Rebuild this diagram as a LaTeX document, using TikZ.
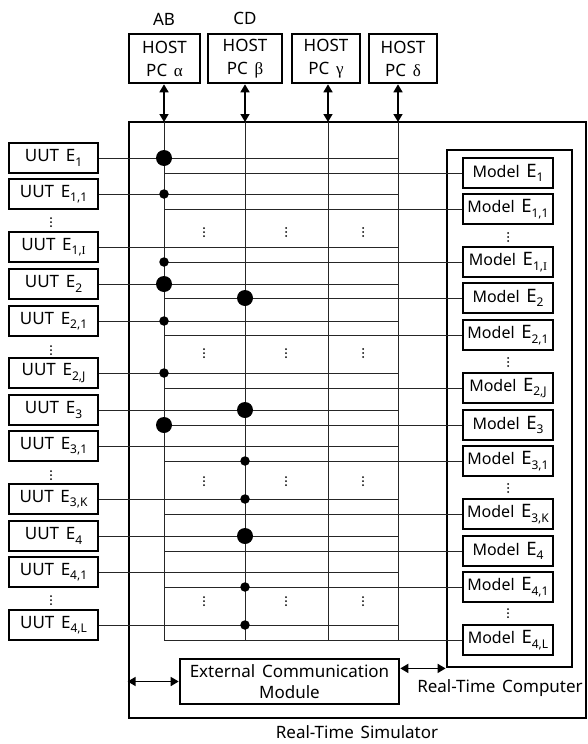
\documentclass[tikz,border=0pt]{standalone}
\usepackage{fontspec}
\setmainfont{Noto Sans}[WordSpace=1.5]
\newfontfamily\grkfont{Liberation Serif}
\usetikzlibrary{arrows.meta}
% lowered index used in the unit and model labels
\newcommand\idx[1]{\raisebox{-4.5pt}{\fontsize{12}{12}\selectfont #1}}
% model label: word a little smaller than the entity letter
\newcommand\mdl[1]{{\fontsize{16}{19}\selectfont Model}\ {\fontsize{18.5}{20}\selectfont E}\idx{#1}}
\begin{document}
\begin{tikzpicture}[x=1pt,y=-1pt,
  every node/.style={font=\fontsize{17}{20}\selectfont},
  box/.style={draw=black,line width=2.6pt,inner sep=0pt,fill=white},
  uutbox/.style={box,minimum width=89pt,minimum height=30pt},
  modelbox/.style={box,minimum width=90pt,minimum height=30pt},
  hostbox/.style={box,minimum height=49pt,align=center,font=\fontsize{17}{23}\selectfont},
  wire/.style={line width=1pt,draw=black!85},
  dblarrow/.style={line width=1.6pt,{Triangle[length=8pt,width=9pt]}-{Triangle[length=8pt,width=9pt]}},
  bigdot/.style={circle,fill=black,inner sep=0pt,minimum size=16pt},
  smalldot/.style={circle,fill=black,inner sep=0pt,minimum size=9.5pt}
]
\useasboundingbox[fill=white] (0,0) rectangle (587,744);

% simulator frame and the real-time computer inside it
\node[draw=black,line width=2.8pt,minimum width=457pt,minimum height=596pt,inner sep=0pt] (sim) at (357.5,420) {};
\node[draw=black,line width=2.8pt,minimum width=125pt,minimum height=517pt,inner sep=0pt] (comp) at (509.5,408.5) {};

% host PCs
\node at (164,19) (labAB) {AB};
\node at (245,18) (labCD) {CD};
\node[hostbox,minimum width=71pt] (ha) at (164.5,58.5) {HOST\\PC {\grkfont α}};
\node[hostbox,minimum width=74pt] (hb) at (245,58.5) {HOST\\PC {\grkfont β}};
\node[hostbox,minimum width=68pt] (hc) at (326,58.5) {HOST\\PC {\grkfont γ}};
\node[hostbox,minimum width=68pt] (hd) at (403,58.5) {HOST\\PC {\grkfont δ}};

% bus columns on the simulator top edge
\coordinate (v1) at (164,122);
\coordinate (v2) at (245,122);
\coordinate (v3) at (328,122);
\coordinate (v4) at (398,122);

% units under test
\foreach \i/\y/\s in {1/158/1,2/194/{1,1},3/247/{1,{\grkfont I}},4/284/2,5/321/{2,1},6/373/{2,J},
                      7/410/3,8/446/{3,1},9/499/{3,K},10/536/4,11/572/{4,1},12/625/{4,L}}
  \node[uutbox] (u\i) at (53.5,\y) {UUT E\idx{\s}};

% models
\foreach \i/\y/\s in {1/173/1,2/209/{1,1},3/262/{1,{\grkfont I}},4/298/2,5/335/{2,1},6/388/{2,J},
                      7/425/3,8/461/{3,1},9/514/{3,K},10/551/4,11/587/{4,1},12/640/{4,L}}
  \node[modelbox] (m\i) at (508,\y) {\mdl{\s}};

% bus lines
\foreach \v in {v1,v2,v3,v4}
  \draw[wire] (\v) -- (\v |- m12.west);
\foreach \i in {1,...,12}{
  \draw[wire] (u\i.east) -- (u\i.east -| v4);
  \draw[wire] (m\i.west -| v1) -- (m\i.west);
}

% host links
\draw[dblarrow] (ha.south -| v1) -- (v1);
\draw[dblarrow] (hb.south -| v2) -- (v2);
\draw[dblarrow] (hc.south -| v3) -- (v3);
\draw[dblarrow] (hd.south -| v4) -- (v4);

% junctions
\node[bigdot]   (j1)  at (u1.east -| v1) {};
\node[smalldot] (j2)  at (u2.east -| v1) {};
\node[smalldot] (j3)  at (m3.west -| v1) {};
\node[bigdot]   (j4)  at (u4.east -| v1) {};
\node[bigdot]   (j5)  at (m4.west -| v2) {};
\node[smalldot] (j6)  at (u5.east -| v1) {};
\node[smalldot] (j7)  at (u6.east -| v1) {};
\node[bigdot]   (j8)  at (u7.east -| v2) {};
\node[bigdot]   (j9)  at (m7.west -| v1) {};
\node[smalldot] (j10) at (m8.west -| v2) {};
\node[smalldot] (j11) at (u9.east -| v2) {};
\node[bigdot]   (j12) at (u10.east -| v2) {};
\node[smalldot] (j13) at (m11.west -| v2) {};
\node[smalldot] (j14) at (u12.east -| v2) {};

% vertical ellipses
\foreach \x/\y in {51/222,51/350,51/475,51/600,
                   204/232,286/232,363/232,204/353,286/353,363/353,
                   204/481,286/481,363/481,204/601,286/601,363/601,
                   508/237,508/362,508/488,508/613}
  \foreach \d in {-4,0,4}
    \fill (\x,\y+\d) circle (1);

% external communication module
\node[box,minimum width=219pt,minimum height=45pt,align=center,
      font=\fontsize{17}{21}\selectfont] (ext) at (289.5,681.5) {External Communication\\Module};
\draw[dblarrow] (ext.west -| sim.west) -- (ext.west);
\draw[dblarrow] (comp.south west -| ext.east) -- (comp.south west);

\node (labRTC) at (500,688) {Real-Time Computer};
\node (labRTS) at (357,732) {Real-Time Simulator};
\end{tikzpicture}
\end{document}
